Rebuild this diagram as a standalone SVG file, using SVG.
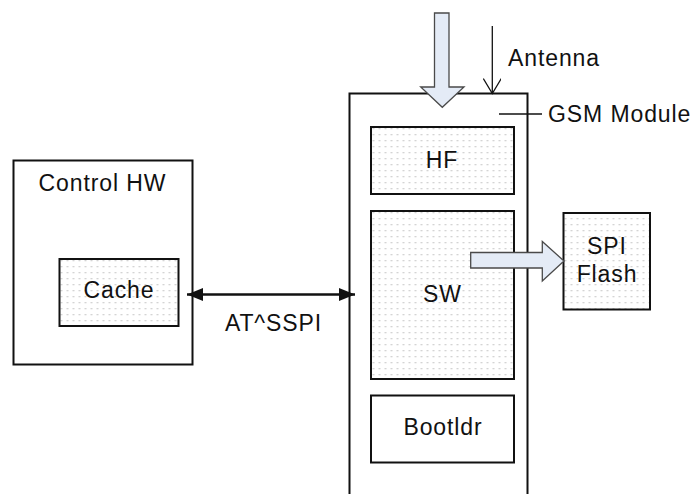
<svg xmlns="http://www.w3.org/2000/svg" width="696" height="494" viewBox="0 0 696 494">
  <style>
    .box { fill: #ffffff; stroke: #111111; stroke-width: 2; }
    .dotted { fill: url(#dots); stroke: #111111; stroke-width: 2; }
    .frame { fill: none; stroke: #111111; stroke-width: 2; }
    .label { font-family: "Liberation Sans", Arial, sans-serif; font-size: 23px; letter-spacing: 0.9px; fill: #111111; }
    .mid { text-anchor: middle; }
    .thin { stroke: #111111; stroke-width: 1.3; fill: none; }
    .block { fill: #e4ebf6; stroke: #4a4a4a; stroke-width: 1.3; stroke-linejoin: miter; }
    .bus { stroke: #111111; stroke-width: 2.6; fill: none; }
  </style>
  <defs>
    <!-- light dashed grid used as fill of the shaded blocks -->
    <pattern id="dots" patternUnits="userSpaceOnUse" x="0" y="0" width="6" height="6">
      <rect x="0" y="0" width="6" height="6" fill="#ffffff"/>
      <rect x="0.5" y="2.3" width="2" height="0.9" fill="#c2c2c2"/>
    </pattern>
    <!-- solid triangular head for the AT^SSPI bus -->
    <marker id="solidHead" markerUnits="userSpaceOnUse" viewBox="0 0 16 13" refX="16" refY="6.5" markerWidth="16" markerHeight="13" orient="auto-start-reverse">
      <path d="M0,0 L16,6.5 L0,13 Z" fill="#111111"/>
    </marker>
    <!-- open V head for the antenna feed -->
    <marker id="openHead" markerUnits="userSpaceOnUse" viewBox="0 0 20 18" refX="16" refY="9" markerWidth="20" markerHeight="18" orient="auto">
      <path d="M1,0 L16,9 L1,18" fill="none" stroke="#111111" stroke-width="1.3"/>
    </marker>
  </defs>

  <!-- host side -->
  <g id="control-hw">
    <rect class="box" x="13.5" y="160.5" width="179" height="204"/>
    <text class="label mid" x="102.5" y="190.5">Control HW</text>
  </g>
  <g id="cache">
    <rect class="dotted" x="59.5" y="259" width="119" height="67"/>
    <text class="label mid" x="119" y="298">Cache</text>
  </g>

  <!-- module frame, open at the bottom -->
  <g id="gsm-module">
    <path class="frame" d="M349.5,494 V93.5 H527.5 V494"/>
    <line class="thin" x1="499" y1="114" x2="542" y2="114"/>
    <text class="label" x="548" y="122.3">GSM Module</text>
  </g>
  <g id="hf">
    <rect class="dotted" x="371" y="127" width="143" height="67"/>
    <text class="label mid" x="442" y="167.7">HF</text>
  </g>
  <g id="sw">
    <rect class="dotted" x="371" y="211" width="143" height="168"/>
    <text class="label mid" x="442.5" y="302">SW</text>
  </g>
  <g id="bootldr">
    <rect class="box" x="371" y="395.5" width="143" height="67"/>
    <text class="label mid" x="443" y="435">Bootldr</text>
  </g>
  <g id="spi-flash">
    <rect class="dotted" x="563.5" y="213" width="86.5" height="96.5"/>
    <text class="label mid" x="607" y="254.3">SPI</text>
    <text class="label mid" x="607" y="281.7">Flash</text>
  </g>

  <g id="connectors">
    <!-- AT^SSPI command channel -->
    <line class="bus" x1="187" y1="294.5" x2="355" y2="294.5" marker-start="url(#solidHead)" marker-end="url(#solidHead)"/>
    <text class="label mid" x="273.5" y="331">AT^SSPI</text>
    <!-- antenna feed -->
    <line class="thin" x1="492.3" y1="26" x2="492.3" y2="93.5" marker-end="url(#openHead)"/>
    <text class="label" x="508" y="65.7">Antenna</text>
    <!-- download into the module -->
    <polygon class="block" points="434.5,13 449,13 449,87 464,87 442.3,107.3 420.7,87 434.5,87"/>
    <!-- software to external flash -->
    <polygon class="block" points="470.7,252.5 542.3,252.5 542.3,241.5 564,261 542.3,281 542.3,268 470.7,268"/>
  </g>
</svg>
